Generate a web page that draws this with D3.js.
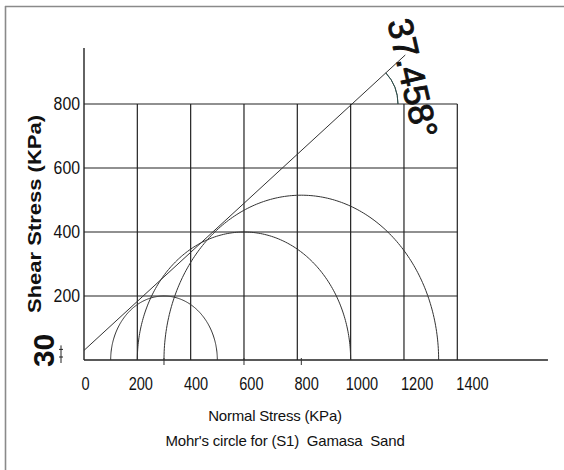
<!DOCTYPE html>
<html>
<head>
<meta charset="utf-8">
<script src="https://cdn.jsdelivr.net/npm/d3@7"></script>
<style>
  html, body { margin: 0; padding: 0; background: #fff; }
  svg { display: block; }
  text { font-family: "Liberation Sans", Arial, sans-serif; fill: #111; }
</style>
</head>
<body>
<svg id="chart" width="564" height="470"></svg>
<script>
// ---- data ----
const sigma3 = [100, 200, 300];          // minor principal stress (kPa)
const sigma1 = [500, 1000, 1330];        // major principal stress (kPa)
const cohesion = 30;                     // kPa
const frictionAngle = 37.458;            // degrees
const envelopeEnd = 1205;                // sigma where envelope line stops
const xTickValues = [0, 200, 400, 600, 800, 1000, 1200, 1400];
const yTickValues = [200, 400, 600, 800];
const gridX = [200, 400, 600, 800, 1000, 1200, 1400];
const gridY = [200, 400, 600, 800];
const xAxisMax = 1740;
const yAxisMax = 975;

const svg = d3.select("#chart");

// border
svg.append("line").attr("x1", 5).attr("x2", 564).attr("y1", 6.5).attr("y2", 6.5)
  .attr("stroke", "#8a8a8a").attr("stroke-width", 1.6);
svg.append("line").attr("x1", 5.5).attr("x2", 5.5).attr("y1", 6).attr("y2", 470)
  .attr("stroke", "#8a8a8a").attr("stroke-width", 1.6);

// scales
const x = d3.scaleLinear().domain([0, 1400]).range([84, 457.3]);
const y = d3.scaleLinear().domain([0, 800]).range([360, 104]);
const xLab = d3.scaleLinear().domain([0, 1400]).range([85, 472]);

// grid
const g = svg.append("g");
g.selectAll(".vg").data(gridX).join("line")
  .attr("x1", d => x(d)).attr("x2", d => x(d))
  .attr("y1", y(0)).attr("y2", y(800))
  .attr("stroke", "#222").attr("stroke-width", 1.2);
g.selectAll(".hg").data(gridY).join("line")
  .attr("x1", x(0)).attr("x2", x(1400))
  .attr("y1", d => y(d)).attr("y2", d => y(d))
  .attr("stroke", "#222").attr("stroke-width", 1.2);

// axes lines
svg.append("line").attr("x1", x(0)).attr("x2", x(0))
  .attr("y1", y(0)).attr("y2", y(yAxisMax))
  .attr("stroke", "#222").attr("stroke-width", 1.4);
svg.append("line").attr("x1", x(0)).attr("x2", x(xAxisMax))
  .attr("y1", y(0)).attr("y2", y(0))
  .attr("stroke", "#222").attr("stroke-width", 1.6);

// tick labels (condensed look)
const xa = svg.append("g").attr("transform", `translate(0,${y(0)})`)
  .call(d3.axisBottom(xLab).tickValues(xTickValues).tickSize(0).tickPadding(17).tickFormat(d3.format("d")));
xa.select(".domain").remove();
xa.selectAll("text").attr("font-size", 18).attr("fill", "#111")
  .attr("textLength", d => String(d).length * 8.1).attr("lengthAdjust", "spacingAndGlyphs");

const ya = svg.append("g").attr("transform", `translate(${x(0)},0)`)
  .call(d3.axisLeft(y).tickValues(yTickValues).tickSize(0).tickPadding(4).tickFormat(d3.format("d")));
ya.select(".domain").remove();
ya.selectAll("text").attr("font-size", 18).attr("fill", "#111")
  .attr("textLength", d => String(d).length * 8.8).attr("lengthAdjust", "spacingAndGlyphs");

// Mohr circles (upper halves)
const circles = sigma3.map((s3, i) => ({ c: (s3 + sigma1[i]) / 2, r: (sigma1[i] - s3) / 2 }));
const arcLine = d3.line().x(p => x(p[0])).y(p => y(p[1]));
circles.forEach(ci => {
  const pts = d3.range(0, 181, 1).map(a => {
    const t = a * Math.PI / 180;
    return [ci.c + ci.r * Math.cos(t), ci.r * Math.sin(t)];
  });
  svg.append("path").attr("d", arcLine(pts)).attr("fill", "none")
    .attr("stroke", "#333").attr("stroke-width", 1);
  svg.append("line").attr("x1", x(ci.c)).attr("x2", x(ci.c))
    .attr("y1", y(0) - 2).attr("y2", y(0) + 5)
    .attr("stroke", "#333").attr("stroke-width", 1);
});

// failure envelope
const tanPhi = Math.tan(frictionAngle * Math.PI / 180);
svg.append("line")
  .attr("x1", x(0)).attr("y1", y(cohesion))
  .attr("x2", x(envelopeEnd)).attr("y2", y(cohesion + envelopeEnd * tanPhi))
  .attr("stroke", "#333").attr("stroke-width", 1);

// angle arc at intersection with top grid line
const sInt = (800 - cohesion) / tanPhi;
const px = x(sInt), py = y(800);
const pixAng = Math.atan2(y(cohesion) - y(cohesion + 100 * tanPhi), x(100) - x(0));
const arcGen = d3.arc().innerRadius(46).outerRadius(46)
  .startAngle(Math.PI / 2 - pixAng).endAngle(Math.PI / 2);
svg.append("path").attr("transform", `translate(${px},${py})`)
  .attr("d", arcGen()).attr("fill", "none").attr("stroke", "#2d4a46").attr("stroke-width", 0.9);

svg.append("text")
  .attr("transform", "translate(413,78) rotate(77)")
  .attr("text-anchor", "middle").attr("dominant-baseline", "central")
  .attr("font-size", 35)
  .attr("stroke", "#111").attr("stroke-width", 0.9)
  .text(frictionAngle + "°");

// cohesion marker
const cx = 61;
svg.append("line").attr("x1", cx).attr("x2", cx).attr("y1", y(cohesion) - 5).attr("y2", y(0) + 3)
  .attr("stroke", "#222").attr("stroke-width", 1);
[y(cohesion) - 1, y(0) - 3].forEach(yy => {
  svg.append("line").attr("x1", cx - 2).attr("x2", cx + 2).attr("y1", yy).attr("y2", yy)
    .attr("stroke", "#222").attr("stroke-width", 1);
});
svg.append("text")
  .attr("transform", `translate(43,${y(cohesion)}) rotate(-90)`)
  .attr("text-anchor", "middle").attr("dominant-baseline", "central")
  .attr("font-size", 30).attr("font-weight", 600)
  .text(cohesion);

// axis titles
svg.append("text")
  .attr("transform", "translate(34,214) rotate(-90)")
  .attr("text-anchor", "middle").attr("dominant-baseline", "central")
  .attr("font-size", 19).attr("font-weight", "bold")
  .attr("textLength", 198).attr("lengthAdjust", "spacingAndGlyphs")
  .text("Shear Stress (KPa)");

svg.append("text")
  .attr("x", 275).attr("y", 415)
  .attr("text-anchor", "middle").attr("dominant-baseline", "central")
  .attr("font-size", 15).attr("letter-spacing", -0.2)
  .text("Normal Stress (KPa)");

svg.append("text")
  .attr("x", 285).attr("y", 440)
  .attr("text-anchor", "middle").attr("dominant-baseline", "central")
  .attr("font-size", 15).attr("letter-spacing", -0.2)
  .style("white-space", "pre")
  .text("Mohr's circle for (S1)  Gamasa  Sand");
</script>
</body>
</html>
